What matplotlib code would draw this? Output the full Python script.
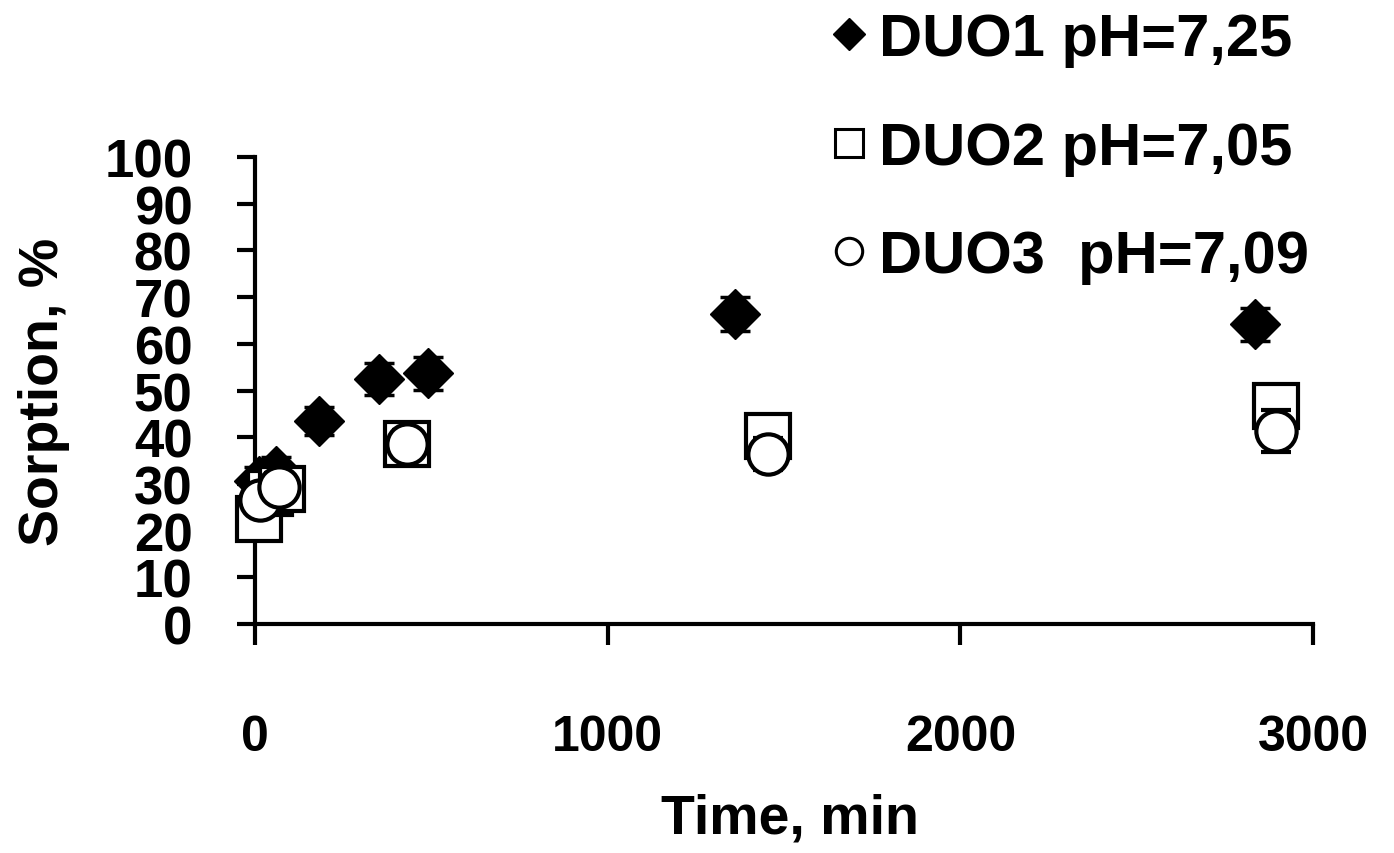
import matplotlib
matplotlib.use('Agg')
import matplotlib.pyplot as plt
from matplotlib.lines import Line2D

# data
time_duo1 = [12, 60, 180, 350, 490, 1360, 2835]
sorp_duo1 = [30.6, 32.8, 43.5, 52.5, 53.7, 66.4, 64.2]
err_duo1 = [3, 3, 3, 3.5, 3.5, 3.6, 3.5]

time_duo2 = [12, 43, 77, 430, 1455, 2895]
sorp_duo2 = [22.5, 28.0, 29.0, 38.5, 40.3, 46.7]
err_duo2 = [3, 3, 3, 3, 3.5, 4.5]

time_duo3 = [14, 68, 430, 1455, 2895]
sorp_duo3 = [26.5, 29.3, 38.5, 36.4, 41.3]
err_duo3 = [3, 3, 3, 3.5, 4.5]

labels = ['DUO1 pH=7,25', 'DUO2 pH=7,05', 'DUO3  pH=7,09']

plt.rcParams['font.family'] = ['Liberation Sans', 'DejaVu Sans']
plt.rcParams['font.weight'] = 'bold'

fig = plt.figure(figsize=(13.94, 8.54), dpi=100)
ax = fig.add_axes([0.183, 0.268, 0.759, 0.547])

eb = dict(ecolor='black', elinewidth=2, capsize=11, capthick=2.5, clip_on=False)
ax.errorbar(time_duo1, sorp_duo1, yerr=err_duo1, fmt='D', ms=25, mfc='black', mec='black',
            zorder=3, **eb)
ax.errorbar(time_duo2, sorp_duo2, yerr=err_duo2, fmt='s', ms=32, mfc='white', mec='black',
            mew=3, zorder=4, **eb)
ax.errorbar(time_duo3, sorp_duo3, yerr=err_duo3, fmt='o', ms=29, mfc='white', mec='black',
            mew=3, zorder=5, **eb)

ax.set_xlim(0, 3000)
ax.set_ylim(0, 100)
ax.set_xticks([0, 1000, 2000, 3000])
ax.set_yticks(range(0, 101, 10))

for s in ['top', 'right']:
    ax.spines[s].set_visible(False)
for s in ['left', 'bottom']:
    ax.spines[s].set_linewidth(3)

ax.tick_params(axis='y', direction='out', length=13, width=3, pad=32, labelsize=38)
ax.tick_params(axis='x', direction='out', length=15, width=3, pad=50, labelsize=36)

ax.set_xlabel('Time, min', fontsize=40, fontweight='bold', va='top')
ax.set_ylabel('Sorption, %', fontsize=40, fontweight='bold')
ax.xaxis.set_label_coords(0.506, -0.36)
ax.yaxis.set_label_coords(-0.175, 0.5)

handles = [
    Line2D([], [], ls='none', marker='D', ms=16, mfc='black', mec='black'),
    Line2D([], [], ls='none', marker='s', ms=20, mfc='white', mec='black', mew=2.2),
    Line2D([], [], ls='none', marker='o', ms=19, mfc='white', mec='black', mew=2.2),
]
fig.legend(handles, labels, loc='upper left', bbox_to_anchor=(0.579, 1.013), frameon=False,
           prop={'size': 43, 'weight': 'bold'}, handlelength=0.6,
           handletextpad=0.2, labelspacing=0.9, borderaxespad=0)

fig.savefig('out.png', dpi=100)
